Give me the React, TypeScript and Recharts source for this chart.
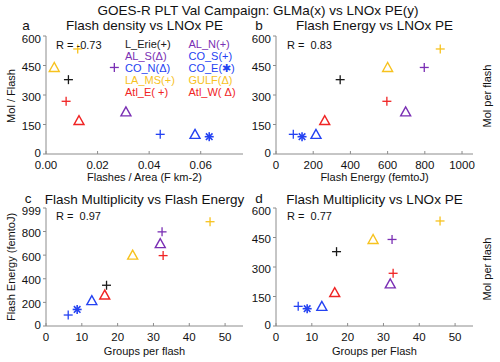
import React from 'react';
import { ScatterChart, Scatter, XAxis, YAxis } from 'recharts';

// one entry per campaign region, same order everywhere
const regions = ['L_Erie', 'AL_N', 'AL_S', 'CO_S', 'CO_N', 'CO_E', 'LA_MS', 'GULF', 'Atl_E', 'Atl_W'];
const symbols = ['plus', 'plus', 'triangle', 'plus', 'triangle', 'star', 'plus', 'triangle', 'plus', 'triangle'];
const legendLabels = ['L_Erie(+)', 'AL_N(+)', 'AL_S(Δ)', 'CO_S(+)', 'CO_N(Δ)', 'CO_E(✱)', 'LA_MS(+)', 'GULF(Δ)', 'Atl_E( +)', 'Atl_W( Δ)'];

const flashDensity = [0.0087, 0.0265, 0.031, 0.0443, 0.0578, 0.0633, 0.0123, 0.0032, 0.0078, 0.0128];
const lnoxPE = [378, 440, 214, 100, 100, 88, 534, 440, 268, 170];
const flashEnergy = [345, 797, 697, 93, 215, 140, 883, 600, 596, 262];
const groupsPerFlash = [16.9, 32.4, 31.9, 6.2, 12.8, 8.7, 45.8, 24.2, 32.7, 16.4];
const groupsPerFlashPE = [16.9, 32.4, 31.9, 6.2, 12.8, 8.7, 45.8, 27.1, 32.7, 16.4];

const densityTicks = [0, 0.02, 0.04, 0.06];
const energyTicks = [0, 200, 400, 600, 800, 1000];
const energyYTicks = [0, 200, 400, 600, 800, 999];
const peTicks = [0, 150, 300, 450, 600];
const groupTicks = [0, 10, 20, 30, 40, 50];

const R_VALUES = ['R = -0.73', 'R =  0.83', 'R =  0.97', 'R =  0.77'];

const COLORS: Record<string, string> = {
  L_Erie: '#1a1a1a',
  AL_N: '#7a2fb4',
  AL_S: '#7a2fb4',
  CO_S: '#2442f2',
  CO_N: '#2442f2',
  CO_E: '#2442f2',
  LA_MS: '#f7c21e',
  GULF: '#f7c21e',
  Atl_E: '#f02424',
  Atl_W: '#f02424',
};

const FONT = '"Liberation Sans", Arial, sans-serif';
const W = 500;
const H = 362;
const AXIS = '#8c8c8c';

const makePoints = (xs: number[], ys: number[]) =>
  regions.map((r, i) => ({ x: xs[i], y: ys[i], region: r, symbol: symbols[i] }));

const Marker = (props: any) => {
  const { cx, cy, payload } = props;
  if (cx == null || cy == null) return null;
  const c = COLORS[payload.region];
  if (payload.symbol === 'plus') {
    return (
      <g stroke={c} strokeWidth={1.3}>
        <line x1={cx - 4.5} y1={cy} x2={cx + 4.5} y2={cy} />
        <line x1={cx} y1={cy - 4.5} x2={cx} y2={cy + 4.5} />
      </g>
    );
  }
  if (payload.symbol === 'triangle') {
    return (
      <polygon
        points={`${cx},${cy - 5} ${cx - 5},${cy + 4} ${cx + 5},${cy + 4}`}
        fill="none"
        stroke={c}
        strokeWidth={1.4}
      />
    );
  }
  // asterisk
  return (
    <g stroke={c} strokeWidth={1.6}>
      <line x1={cx - 4.5} y1={cy} x2={cx + 4.5} y2={cy} />
      <line x1={cx} y1={cy - 4.5} x2={cx} y2={cy + 4.5} />
      <line x1={cx - 3.3} y1={cy - 3.3} x2={cx + 3.3} y2={cy + 3.3} />
      <line x1={cx - 3.3} y1={cy + 3.3} x2={cx + 3.3} y2={cy - 3.3} />
    </g>
  );
};

// y tick labels sit a little below their tick in the original (top one most)
const YTick = (props: any) => {
  const { x, y, payload, index, visibleTicksCount } = props;
  const last = index === visibleTicksCount - 1;
  const shift = last ? 3 : index === 0 ? -1.5 : 1.5;
  return (
    <text x={x} y={y + shift} dy="0.36em" textAnchor="end" fontSize={11.5} fill="#111" fontFamily={FONT}>
      {payload.value}
    </text>
  );
};

interface PanelProps {
  plot: { left: number; top: number; right: number; bottom: number };
  data: any[];
  xDomain: [number, number];
  xTicks: number[];
  xFormat?: (v: number) => string;
  yDomain: [number, number];
  yTicks: number[];
}

const tickStyle = { fontSize: 11.5, fill: '#111', fontFamily: FONT };

function Panel({ plot, data, xDomain, xTicks, xFormat, yDomain, yTicks }: PanelProps) {
  return (
    <div style={{ position: 'absolute', left: 0, top: 0 }}>
      <ScatterChart
        width={W}
        height={H}
        margin={{ top: plot.top, right: W - plot.right, bottom: 0, left: 0 }}
      >
        <XAxis
          xAxisId="b"
          type="number"
          dataKey="x"
          domain={xDomain}
          ticks={xTicks}
          interval={0}
          allowDataOverflow
          height={H - plot.bottom}
          stroke={AXIS}
          tickSize={-3}
          tickMargin={10}
          tick={tickStyle}
          tickFormatter={xFormat}
        />
        <XAxis
          xAxisId="t"
          orientation="top"
          type="number"
          domain={xDomain}
          ticks={xTicks}
          interval={0}
          allowDataOverflow
          height={0}
          stroke={AXIS}
          tickSize={-3}
          tick={false}
        />
        <YAxis
          yAxisId="l"
          type="number"
          dataKey="y"
          domain={yDomain}
          ticks={yTicks}
          interval={0}
          allowDataOverflow
          width={plot.left}
          stroke={AXIS}
          tickSize={3}
          tickMargin={2}
          tick={<YTick />}
        />
        <YAxis
          yAxisId="r"
          orientation="right"
          type="number"
          domain={yDomain}
          ticks={yTicks}
          interval={0}
          allowDataOverflow
          width={0}
          stroke={AXIS}
          tickSize={3}
          tick={false}
        />
        <Scatter xAxisId="b" yAxisId="l" data={data} shape={<Marker />} isAnimationActive={false} />
      </ScatterChart>
    </div>
  );
}

const plotA = { left: 46, top: 36, right: 243, bottom: 154 };
const plotB = { left: 276, top: 36, right: 473, bottom: 154 };
const plotC = { left: 46, top: 208, right: 243, bottom: 326 };
const plotD = { left: 276, top: 208, right: 473, bottom: 326 };

export default function App() {
  const titleSize = 13.5;
  const labelSize = 11;
  return (
    <div
      style={{
        position: 'absolute',
        left: 0,
        top: 0,
        width: W,
        height: H,
        background: '#fff',
        fontFamily: FONT,
      }}
    >
      <Panel
        plot={plotA}
        data={makePoints(flashDensity, lnoxPE)}
        xDomain={[0, 0.0764]}
        xTicks={densityTicks}
        xFormat={(v) => v.toFixed(2)}
        yDomain={[0, 600]}
        yTicks={peTicks}
      />
      <Panel
        plot={plotB}
        data={makePoints(flashEnergy, lnoxPE)}
        xDomain={[0, 1059]}
        xTicks={energyTicks}
        yDomain={[0, 600]}
        yTicks={peTicks}
      />
      <Panel
        plot={plotC}
        data={makePoints(groupsPerFlash, flashEnergy)}
        xDomain={[0, 55]}
        xTicks={groupTicks}
        yDomain={[0, 999]}
        yTicks={energyYTicks}
      />
      <Panel
        plot={plotD}
        data={makePoints(groupsPerFlashPE, lnoxPE)}
        xDomain={[0, 55]}
        xTicks={groupTicks}
        yDomain={[0, 600]}
        yTicks={peTicks}
      />

      {/* titles, axis labels, legend */}
      <svg
        width={W}
        height={H}
        style={{ position: 'absolute', left: 0, top: 0, pointerEvents: 'none' }}
        fontFamily={FONT}
      >
        <text x={258} y={15} textAnchor="middle" fontSize={titleSize} fill="#111">
          GOES-R PLT Val Campaign: GLMa(x) vs LNOx PE(y)
        </text>

        <text x={26} y={29.5} textAnchor="middle" fontSize={titleSize} fill="#111">a</text>
        <text x={144.5} y={30} textAnchor="middle" fontSize={titleSize} fill="#111">Flash density vs LNOx PE</text>
        <text x={259} y={29.5} textAnchor="middle" fontSize={titleSize} fill="#111">b</text>
        <text x={374.5} y={30} textAnchor="middle" fontSize={titleSize} fill="#111">Flash Energy vs LNOx PE</text>
        <text x={28} y={203} textAnchor="middle" fontSize={titleSize} fill="#111">c</text>
        <text x={144.5} y={204} textAnchor="middle" fontSize={titleSize} fill="#111">Flash Multiplicity vs Flash Energy</text>
        <text x={259} y={203} textAnchor="middle" fontSize={titleSize} fill="#111">d</text>
        <text x={374.5} y={204} textAnchor="middle" fontSize={titleSize} fill="#111">Flash Multiplicity vs LNOx PE</text>

        <text x={56} y={48.5} fontSize={labelSize} fill="#111" style={{ whiteSpace: 'pre' }}>{R_VALUES[0]}</text>
        <text x={287} y={48.5} fontSize={labelSize} fill="#111" style={{ whiteSpace: 'pre' }}>{R_VALUES[1]}</text>
        <text x={56} y={220} fontSize={labelSize} fill="#111" style={{ whiteSpace: 'pre' }}>{R_VALUES[2]}</text>
        <text x={287} y={220} fontSize={labelSize} fill="#111" style={{ whiteSpace: 'pre' }}>{R_VALUES[3]}</text>

        {legendLabels.map((lab, i) => (
          <text
            key={lab}
            x={i % 2 === 0 ? 125 : 188.5}
            y={48.3 + Math.floor(i / 2) * 12}
            fontSize={labelSize}
            fill={COLORS[regions[i]]}
            style={{ whiteSpace: 'pre' }}
          >
            {lab}
          </text>
        ))}

        <text x={144.5} y={181} textAnchor="middle" fontSize={labelSize} fill="#111">Flashes / Area (F km-2)</text>
        <text x={374.5} y={181} textAnchor="middle" fontSize={labelSize} fill="#111">Flash Energy (femtoJ)</text>
        <text x={144.5} y={355} textAnchor="middle" fontSize={labelSize} fill="#111">Groups per flash</text>
        <text x={374.5} y={355} textAnchor="middle" fontSize={labelSize} fill="#111">Groups per Flash</text>

        <text transform="translate(15,96) rotate(-90)" textAnchor="middle" fontSize={labelSize} fill="#111">Mol / Flash</text>
        <text transform="translate(15,267) rotate(-90)" textAnchor="middle" fontSize={labelSize} fill="#111">Flash Energy (femtoJ)</text>
        <text transform="translate(491,96) rotate(-90)" textAnchor="middle" fontSize={labelSize} fill="#111">Mol per flash</text>
        <text transform="translate(491,269) rotate(-90)" textAnchor="middle" fontSize={labelSize} fill="#111">Mol per flash</text>
      </svg>
    </div>
  );
}
